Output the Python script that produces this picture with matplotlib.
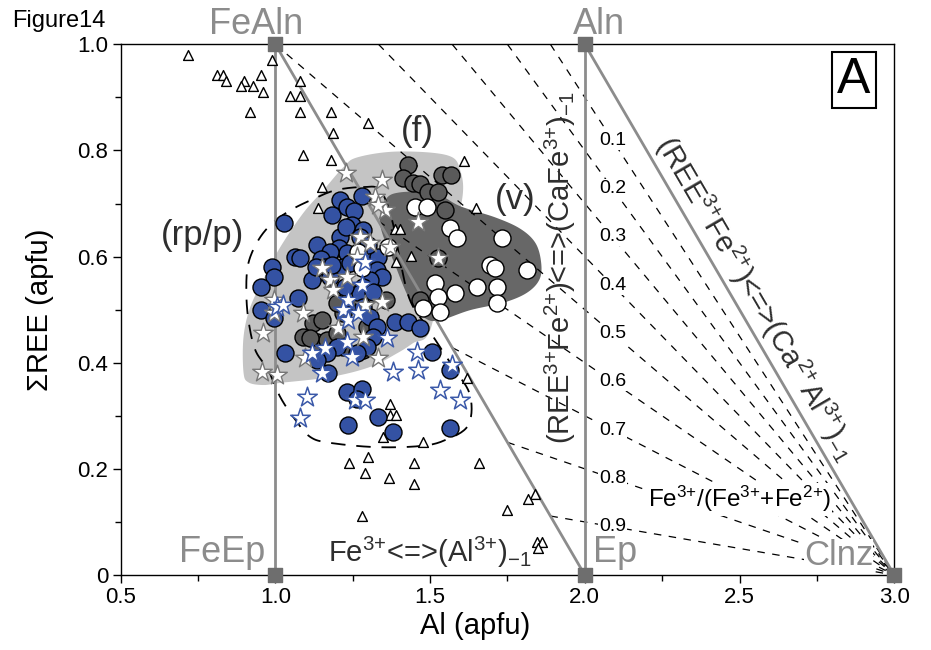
import numpy as np
import matplotlib
matplotlib.use('Agg')
from matplotlib import pyplot as plt

plt.rcParams['font.family'] = ['Liberation Sans', 'DejaVu Sans']
plt.rcParams['mathtext.fontset'] = 'custom'
plt.rcParams['mathtext.rm'] = 'Liberation Sans'
plt.rcParams['mathtext.it'] = 'Liberation Sans:italic'
plt.rcParams['mathtext.bf'] = 'Liberation Sans:bold'

# end-members (Al apfu, REE apfu)
em_names = ['FeAln', 'Aln', 'FeEp', 'Ep', 'Clnz']
em_al = [1.0, 2.0, 1.0, 2.0, 3.0]
em_ree = [1.0, 1.0, 0.0, 0.0, 0.0]

# Fe3+/(Fe3+ + Fe2+) isolines
ratios = [0.1, 0.2, 0.3, 0.4, 0.5, 0.6, 0.7, 0.8, 0.9]
ratio_labels = ['0.1', '0.2', '0.3', '0.4', '0.5', '0.6', '0.7', '0.8', '0.9']

# open triangles
tri_al = [0.719, 0.990, 0.810, 0.832, 0.842, 0.900, 0.952, 0.890, 0.929, 0.961,
          0.919, 1.081, 1.048, 1.081, 1.081, 1.181, 1.187, 1.300, 1.090, 1.181,
          1.152, 1.139, 1.610, 1.648, 1.387, 1.403, 1.439, 1.390, 1.619, 1.371,
          1.371, 1.390, 1.348, 1.477, 1.300, 1.239, 1.290, 1.368, 1.448, 1.448,
          1.658, 1.281, 1.839, 1.816, 1.748, 1.845, 1.861, 1.848]
tri_ree = [0.979, 0.970, 0.942, 0.942, 0.930, 0.930, 0.942, 0.921, 0.921, 0.911,
           0.872, 0.930, 0.902, 0.902, 0.872, 0.872, 0.832, 0.851, 0.791, 0.782,
           0.731, 0.691, 0.780, 0.691, 0.652, 0.652, 0.601, 0.589, 0.371, 0.322,
           0.301, 0.301, 0.260, 0.250, 0.222, 0.211, 0.192, 0.183, 0.211, 0.171,
           0.211, 0.111, 0.153, 0.143, 0.122, 0.062, 0.062, 0.051]

# blue circles
blue_al = [1.029, 0.955, 0.997, 1.032, 0.990, 0.997, 0.952, 1.065, 1.081, 1.074,
           1.210, 1.281, 1.184, 1.232, 1.255, 1.248, 1.284, 1.274, 1.210, 1.229,
           1.135, 1.206, 1.232, 1.177, 1.148, 1.161, 1.135, 1.119, 1.177, 1.219,
           1.242, 1.284, 1.332, 1.329, 1.345, 1.306, 1.284, 1.274, 1.316, 1.226,
           1.132, 1.184, 1.300, 1.284, 1.306, 1.329, 1.316, 1.297, 1.265, 1.200,
           1.168, 1.135, 1.171, 1.387, 1.429, 1.468, 1.506, 1.565, 1.232, 1.281,
           1.265, 1.235, 1.332, 1.381, 1.565]
blue_ree = [0.663, 0.499, 0.484, 0.418, 0.580, 0.561, 0.542, 0.599, 0.597, 0.522,
            0.706, 0.714, 0.678, 0.693, 0.685, 0.659, 0.650, 0.637, 0.637, 0.655,
            0.621, 0.616, 0.606, 0.608, 0.595, 0.580, 0.569, 0.556, 0.561, 0.580,
            0.588, 0.597, 0.599, 0.574, 0.561, 0.556, 0.542, 0.531, 0.533, 0.542,
            0.580, 0.584, 0.621, 0.505, 0.486, 0.467, 0.448, 0.429, 0.418, 0.429,
            0.418, 0.405, 0.380, 0.476, 0.476, 0.465, 0.420, 0.386, 0.345, 0.350,
            0.331, 0.282, 0.298, 0.269, 0.277]

# dark grey circles
dgray_al = [1.429, 1.413, 1.445, 1.468, 1.494, 1.526, 1.539, 1.568, 1.548,
            1.123, 1.152, 1.090, 1.135, 1.168, 1.200, 1.219, 1.265, 1.297, 1.284,
            1.219, 1.358, 1.200, 1.113, 1.526, 1.468]
dgray_ree = [0.772, 0.748, 0.738, 0.736, 0.721, 0.721, 0.753, 0.753, 0.687,
             0.475, 0.480, 0.448, 0.439, 0.443, 0.456, 0.493, 0.512, 0.467, 0.424,
             0.429, 0.518, 0.512, 0.446, 0.597, 0.518]

# white circles
white_al = [1.452, 1.490, 1.565, 1.587, 1.732, 1.694, 1.710, 1.813, 1.516, 1.526,
            1.581, 1.652, 1.716, 1.716, 1.477, 1.532, 1.268, 1.281, 1.365]
white_ree = [0.693, 0.693, 0.653, 0.635, 0.635, 0.584, 0.578, 0.574, 0.550, 0.524,
             0.531, 0.542, 0.542, 0.512, 0.503, 0.495, 0.608, 0.578, 0.618]

# white stars, grey outline
gstar_al = [1.229, 1.345, 1.323, 1.355, 1.332, 1.461, 1.274, 1.306, 1.371, 1.526,
            1.265, 1.152, 1.177, 1.187, 1.232, 0.994, 1.090, 0.961, 0.958, 1.006,
            1.203, 1.284, 1.345, 1.332, 1.097, 1.290, 0.994]
gstar_ree = [0.757, 0.744, 0.712, 0.687, 0.697, 0.665, 0.637, 0.625, 0.618, 0.597,
             0.599, 0.578, 0.556, 0.537, 0.561, 0.518, 0.493, 0.456, 0.382, 0.377,
             0.465, 0.448, 0.514, 0.409, 0.409, 0.508, 0.493]

# white stars, blue outline
bstar_al = [1.290, 1.281, 1.006, 1.026, 1.235, 1.219, 1.235, 1.268, 1.119, 1.161,
            1.232, 1.248, 1.361, 1.152, 1.381, 1.458, 1.461, 1.571, 1.532, 1.597,
            1.103, 1.081, 1.258, 1.290]
bstar_ree = [0.589, 0.546, 0.505, 0.508, 0.518, 0.499, 0.480, 0.493, 0.418, 0.427,
             0.439, 0.411, 0.446, 0.380, 0.382, 0.420, 0.386, 0.395, 0.348, 0.330,
             0.335, 0.296, 0.330, 0.330]

# fields
f_al = [1.265, 1.394, 1.555, 1.597, 1.603, 1.548, 1.500, 1.445, 1.394, 1.306,
        1.177, 1.016, 0.961, 0.913, 0.897, 0.897, 0.919, 0.968, 1.016, 1.090,
        1.155, 1.219]
f_ree = [0.787, 0.798, 0.791, 0.763, 0.706, 0.593, 0.461, 0.437, 0.418, 0.392,
         0.373, 0.362, 0.358, 0.363, 0.382, 0.448, 0.505, 0.565, 0.618, 0.682,
         0.725, 0.768]
v_al = [1.355, 1.403, 1.516, 1.597, 1.710, 1.790, 1.839, 1.858, 1.855, 1.816,
        1.742, 1.629, 1.532, 1.484, 1.435, 1.387, 1.339]
v_ree = [0.706, 0.721, 0.719, 0.695, 0.674, 0.653, 0.627, 0.593, 0.559, 0.533,
         0.514, 0.499, 0.480, 0.484, 0.518, 0.584, 0.659]
rp_al = [1.284, 1.339, 1.377, 1.403, 1.435, 1.490, 1.574, 1.629, 1.623, 1.548,
         1.468, 1.323, 1.177, 1.113, 1.065, 1.016, 0.977, 0.935, 0.913, 0.906,
         0.913, 0.945, 0.990, 1.048, 1.113, 1.194]
rp_ree = [0.731, 0.725, 0.669, 0.593, 0.518, 0.467, 0.392, 0.339, 0.282, 0.254,
          0.243, 0.241, 0.249, 0.260, 0.292, 0.335, 0.386, 0.424, 0.480, 0.537,
          0.588, 0.631, 0.663, 0.687, 0.706, 0.725]


def smooth(xs, ys, n=16):
    # closed Catmull-Rom curve through the outline points
    p = np.column_stack([xs, ys])
    m = len(p)
    t = np.linspace(0, 1, n, endpoint=False)[:, None]
    out = []
    for i in range(m):
        p0, p1, p2, p3 = p[i - 1], p[i], p[(i + 1) % m], p[(i + 2) % m]
        out.append(0.5 * (2 * p1 + (-p0 + p2) * t + (2 * p0 - 5 * p1 + 4 * p2 - p3) * t ** 2
                          + (-p0 + 3 * p1 - 3 * p2 + p3) * t ** 3))
    out = np.vstack(out)
    return np.vstack([out, out[:1]])


def ion(sym, ch):
    return sym + r'^{\text{' + ch + '}}'


fig = plt.figure(figsize=(9.31, 6.5), dpi=100)
ax = fig.add_axes([0.1296, 0.1154, 0.8309, 0.8164])
ax.set_xlim(0.5, 3.0)
ax.set_ylim(0, 1)

fc = smooth(f_al, f_ree)
ax.fill(fc[:, 0], fc[:, 1], color='#c4c4c4', lw=0, zorder=1)
vc = smooth(v_al, v_ree)
ax.fill(vc[:, 0], vc[:, 1], color='#676767', lw=0, zorder=2)
rc = smooth(rp_al, rp_ree)
ax.plot(rc[:, 0], rc[:, 1], color='k', lw=1.3, dashes=(8, 6), zorder=3)

# isolines REE = (1-r)(3-Al), starting on the top edge or the FeAln-Ep join
for r, lab in zip(ratios, ratio_labels):
    if r <= 0.5:
        a0 = 3 - 1 / (1 - r)
    else:
        a0 = 3 - 1 / r
    aa = np.array([a0, 3.0])
    ax.plot(aa, (1 - r) * (3 - aa), color='k', lw=0.9, dashes=(6, 6), zorder=3)
    ax.text(2.09, (1 - r) * 0.91, lab, fontsize=14, ha='center', va='center', zorder=5,
            bbox=dict(facecolor='white', edgecolor='none', pad=0.5))

# grey joins
gcol = '#8c8c8c'
ax.plot([em_al[0], em_al[2]], [em_ree[0], em_ree[2]], color=gcol, lw=2, zorder=4)
ax.plot([em_al[1], em_al[3]], [em_ree[1], em_ree[3]], color=gcol, lw=2, zorder=4)
ax.plot([em_al[0], em_al[3]], [em_ree[0], em_ree[3]], color=gcol, lw=2, zorder=4)
ax.plot([em_al[1], em_al[4]], [em_ree[1], em_ree[4]], color=gcol, lw=2, zorder=4)
ax.scatter(em_al, em_ree, marker='s', s=90, color='#6e6e6e', zorder=10, clip_on=False)

# samples
ax.scatter(tri_al, tri_ree, marker='^', s=50, facecolor='white', edgecolor='k', lw=1, zorder=6)
ax.scatter(dgray_al, dgray_ree, marker='o', s=150, facecolor='#5a5a5a', edgecolor='k', lw=1, zorder=7)
ax.scatter(blue_al, blue_ree, marker='o', s=150, facecolor='#3452a3', edgecolor='k', lw=1, zorder=7)
ax.scatter(white_al, white_ree, marker='o', s=150, facecolor='white', edgecolor='k', lw=1, zorder=7)
ax.scatter(gstar_al, gstar_ree, marker='*', s=220, facecolor='white', edgecolor='#777777', lw=1, zorder=8)
ax.scatter(bstar_al, bstar_ree, marker='*', s=220, facecolor='white', edgecolor='#3a58a8', lw=1.1, zorder=8)

# end-member names
ax.text(0.937, 1.019, em_names[0], fontsize=26, color=gcol, ha='center', va='baseline', clip_on=False)
ax.text(2.046, 1.019, em_names[1], fontsize=26, color=gcol, ha='center', va='baseline', clip_on=False)
ax.text(0.966, 0.024, em_names[2], fontsize=26, color=gcol, ha='right', va='baseline', zorder=5)
ax.text(2.027, 0.024, em_names[3], fontsize=26, color=gcol, ha='left', va='baseline', zorder=5)
ax.text(2.932, 0.019, em_names[4], fontsize=25, color=gcol, ha='right', va='baseline', zorder=5,
        bbox=dict(facecolor='white', edgecolor='none', pad=0))

# field labels
tcol = '#2e2e2e'
ax.text(1.458, 0.836, '(f)', fontsize=25, color=tcol, ha='center', va='center', zorder=9)
ax.text(1.774, 0.708, '(v)', fontsize=25, color=tcol, ha='center', va='center', zorder=9)
ax.text(0.763, 0.640, '(rp/p)', fontsize=25, color=tcol, ha='center', va='center', zorder=9)

# exchange vectors
v1 = ('$\\mathregular{(REE' + ion('', '3+') + 'Fe' + ion('', '2+') + ')}$<=>'
      '$\\mathregular{(CaFe' + ion('', '3+') + ')_{-1}}$')
v2 = ('$\\mathregular{(REE' + ion('', '3+') + 'Fe' + ion('', '2+') + ')}$<=>'
      '$\\mathregular{(Ca' + ion('', '2+') + 'Al' + ion('', '3+') + ')_{-1}}$')
v3 = '$\\mathregular{Fe' + ion('', '3+') + '}$<=>$\\mathregular{(Al' + ion('', '3+') + ')_{-1}}$'
v4 = ('$\\mathregular{Fe' + ion('', '3+') + '/(Fe' + ion('', '3+') + '}$+'
      '$\\mathregular{Fe' + ion('', '2+') + ')}$')
ax.text(1.92, 0.578, v1, fontsize=21, color=tcol, rotation=90, ha='center', va='center', zorder=9)
ax.text(2.553, 0.522, v2, fontsize=21, color=tcol, rotation=-59.77, ha='center', va='center',
        zorder=9, rotation_mode='anchor')
ax.text(1.170, 0.0245, v3, fontsize=21, color=tcol, ha='left', va='baseline', zorder=9)
ax.text(2.204, 0.128, v4, fontsize=17.5, color='k', ha='left', va='baseline', zorder=9,
        bbox=dict(facecolor='white', edgecolor='none', pad=1))

ax.text(0.948, 0.932, 'A', fontsize=36, ha='center', va='center', transform=ax.transAxes,
        bbox=dict(boxstyle='square,pad=0.1', facecolor='white', edgecolor='k', lw=1.5))

fig.text(0.013, 0.985, 'Figure14', fontsize=17, ha='left', va='top')

ax.set_xticks([0.5, 1.0, 1.5, 2.0, 2.5, 3.0])
ax.set_xticklabels(['0.5', '1.0', '1.5', '2.0', '2.5', '3.0'])
ax.set_xticks([0.75, 1.25, 1.75, 2.25, 2.75], minor=True)
ax.set_yticks([0, 0.2, 0.4, 0.6, 0.8, 1.0])
ax.set_yticklabels(['0', '0.2', '0.4', '0.6', '0.8', '1.0'])
ax.set_yticks([0.1, 0.3, 0.5, 0.7, 0.9], minor=True)
ax.tick_params(which='major', direction='out', length=6, width=1, labelsize=16, pad=3)
ax.tick_params(which='minor', direction='out', length=4, width=1)
for s in ax.spines.values():
    s.set_linewidth(1)

ax.set_xlabel('Al (apfu)', fontsize=21)
ax.xaxis.set_label_coords(0.458, -0.07)
ax.set_ylabel('ΣREE (apfu)', fontsize=21)
ax.yaxis.set_label_coords(-0.086, 0.5)

plt.savefig('out.png', dpi=100)
